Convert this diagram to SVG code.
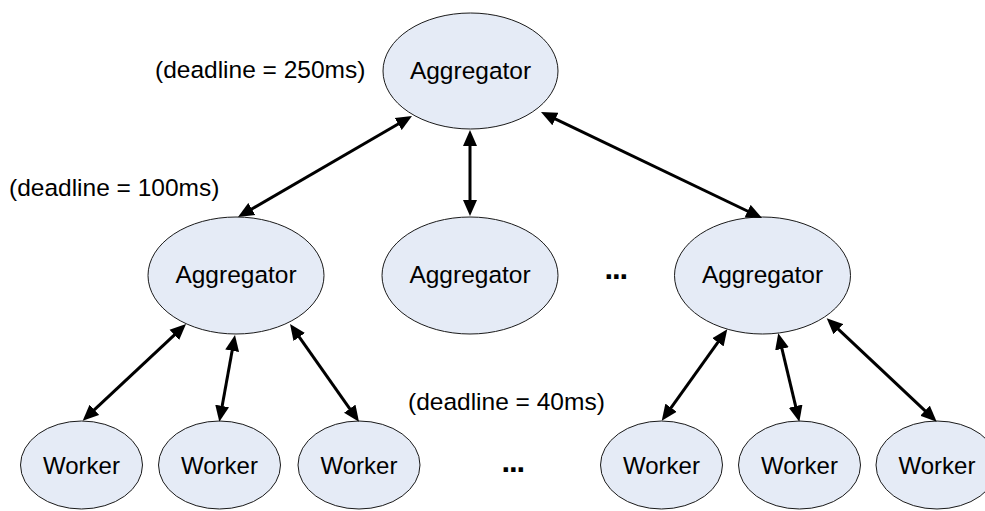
<svg xmlns="http://www.w3.org/2000/svg" width="985" height="511" viewBox="0 0 985 511">
<style>
.node ellipse{fill:#E5EBF6;stroke:#1a1a1a;stroke-width:1}
.lbl{font-family:"Liberation Sans",Arial,sans-serif;font-size:24.5px;fill:#000;text-anchor:middle}
.wl{font-size:24px}
.note{font-family:"Liberation Sans",Arial,sans-serif;font-size:24.5px;fill:#000}
.dots{font-family:"Liberation Sans",Arial,sans-serif;font-size:31px;font-weight:bold;fill:#000;letter-spacing:-1.1px}
.conn line{stroke:#000;stroke-width:3;marker-start:url(#ah);marker-end:url(#ah)}
</style>
<defs>
<marker id="ah" markerUnits="userSpaceOnUse" markerWidth="17" markerHeight="15" refX="2" refY="7.5" orient="auto-start-reverse" viewBox="0 0 17 15">
<path d="M0,0.5 L16,7.5 L0,14.5 z" fill="#000"/>
</marker>
</defs>
<rect width="985" height="511" fill="#fff"/>
<g id="aggTop" class="node"><ellipse cx="470.5" cy="71" rx="87.5" ry="58"/><text class="lbl" x="470.5" y="79">Aggregator</text></g>
<g id="aggLeft" class="node"><ellipse cx="236" cy="275.5" rx="88" ry="58.5"/><text class="lbl" x="236" y="283">Aggregator</text></g>
<g id="aggMid" class="node"><ellipse cx="470" cy="275.5" rx="88" ry="58.5"/><text class="lbl" x="470" y="283">Aggregator</text></g>
<g id="aggRight" class="node"><ellipse cx="762.5" cy="275.5" rx="88" ry="58.5"/><text class="lbl" x="762.5" y="283">Aggregator</text></g>
<g id="w1" class="node"><ellipse cx="81.5" cy="465" rx="61" ry="44"/><text class="lbl wl" x="81.5" y="474">Worker</text></g>
<g id="w2" class="node"><ellipse cx="219.5" cy="465" rx="61" ry="44"/><text class="lbl wl" x="219.5" y="474">Worker</text></g>
<g id="w3" class="node"><ellipse cx="359" cy="465" rx="61" ry="44"/><text class="lbl wl" x="359" y="474">Worker</text></g>
<g id="w4" class="node"><ellipse cx="661.5" cy="465" rx="61" ry="44"/><text class="lbl wl" x="661.5" y="474">Worker</text></g>
<g id="w5" class="node"><ellipse cx="799.5" cy="465" rx="61" ry="44"/><text class="lbl wl" x="799.5" y="474">Worker</text></g>
<g id="w6" class="node"><ellipse cx="937" cy="465" rx="61" ry="44"/><text class="lbl wl" x="937" y="474">Worker</text></g>
<g id="connectors" class="conn">
<line x1="399.9" y1="123" x2="250.1" y2="210"/>
<line x1="470" y1="144" x2="470" y2="202"/>
<line x1="553.6" y1="118.1" x2="749.4" y2="212"/>
<line x1="175.8" y1="333.6" x2="92.9" y2="411.1"/>
<line x1="232.5" y1="348.8" x2="221.8" y2="407.9"/>
<line x1="298.1" y1="335.4" x2="350.9" y2="410.3"/>
<line x1="719.1" y1="340.7" x2="669.9" y2="409.3"/>
<line x1="781.5" y1="346.9" x2="796.1" y2="408.1"/>
<line x1="836.9" y1="327.9" x2="926.5" y2="412.1"/>
</g>
<text class="note" x="155" y="78">(deadline = 250ms)</text>
<text class="note" x="9" y="196">(deadline = 100ms)</text>
<text class="note" x="408" y="410">(deadline = 40ms)</text>
<text class="dots" x="604.5" y="279">...</text>
<text class="dots" x="501.5" y="472">...</text>
</svg>
